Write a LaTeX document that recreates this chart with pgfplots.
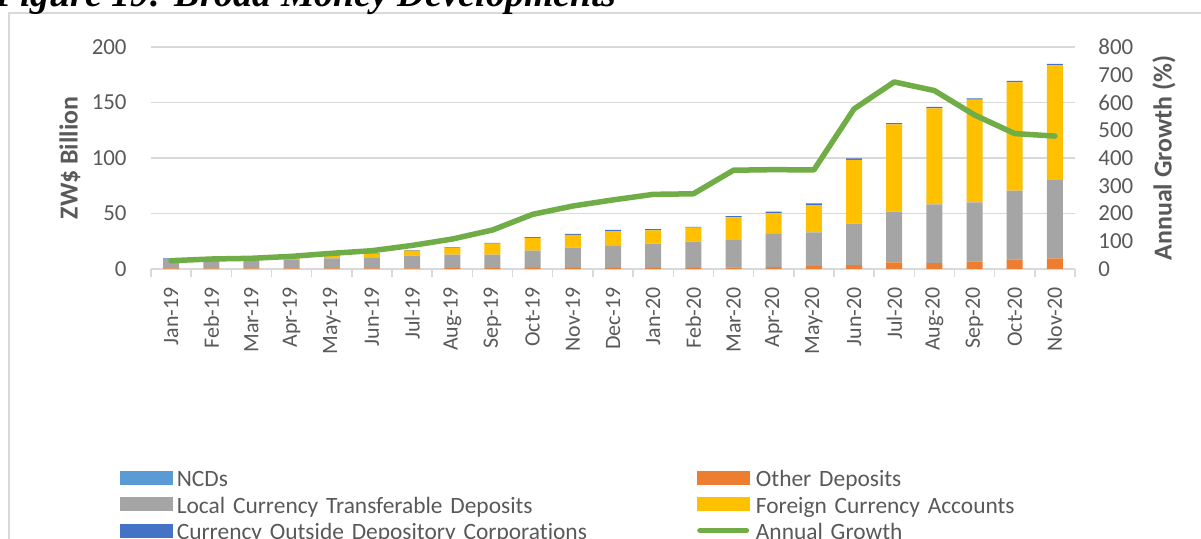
\documentclass[border=0pt]{standalone}
\usepackage{fontspec}
\setmainfont{Carlito}[Ligatures=NoCommon]
\newfontfamily\titlefont{Liberation Serif}
\usepackage{pgfplots}
\pgfplotsset{compat=1.18}
\usepackage{pgfplotstable}
\definecolor{cGray}{HTML}{A5A5A5}
\definecolor{cOrange}{HTML}{ED7D31}
\definecolor{cYellow}{HTML}{FFC000}
\definecolor{cLBlue}{HTML}{5B9BD5}
\definecolor{cDBlue}{HTML}{4472C4}
\definecolor{cGreen}{HTML}{70AD47}
\definecolor{cText}{HTML}{595959}
\definecolor{cGrid}{HTML}{D9D9D9}

\pgfplotstableread{
x  other local foreign curr growth
0  0.6   8.6   0.0    0.4  30
1  0.6   8.7   0.2    0.4  36
2  0.6   8.8   0.3    0.4  38.5
3  0.6   8.1   1.0    0.4  45.6
4  0.6   9.0   2.2    0.4  56.5
5  0.6   9.3   4.0    0.4  66
6  0.6   11.4  4.6    0.5  85
7  0.7   12.2  6.0    0.6  108
8  0.7   12.2  10.0   0.6  140.5
9  1.0   15.6  11.4   0.7  197
10 1.0   18.2  11.5   0.9  227
11 1.1   20.1  12.9   1.2  249
12 1.0   21.8  12.0   1.2  269
13 1.0   23.6  12.6   0.7  271
14 1.5   24.6  20.4   1.2  356
15 1.6   29.9  18.9   1.2  358
16 2.5   30.5  24.6   1.5  357
17 3.6   37.2  57.6   1.2  577
18 6.0   45.6  78.6   1.2  674
19 5.4   52.9  86.5   1.2  643
20 6.9   53.2  92.4   1.3  555
21 8.7   61.9  97.6   1.2  488
22 9.6   71.2  102.6  1.3  479
}\data

\begin{document}
\begin{tikzpicture}
\useasboundingbox (0,0) rectangle (600.5bp,269.5bp);
\draw[cGrid, line width=0.75bp] (4.5bp,-5bp) -- (4.5bp,263bp) -- (610bp,263bp);
\node[anchor=base east, inner sep=0pt, font=\titlefont\bfseries\itshape\fontsize{19}{22}\selectfont] at (308.5bp,266bp) {Figure 19: Broad Money Developments};

\begin{axis}[
  at={(75.5bp,135bp)}, anchor=south west, scale only axis,
  width=462bp, height=111bp,
  xmin=-0.5, xmax=22.5, ymin=0, ymax=200,
  ybar stacked, bar width=8bp,
  axis line style={draw=none},
  ymajorgrids, grid style={cGrid, line width=0.75bp},
  ytick={0,50,...,200}, major tick length=0pt,
  xtick={0,...,22},
  xticklabels={Jan-19,Feb-19,Mar-19,Apr-19,May-19,Jun-19,Jul-19,Aug-19,Sep-19,Oct-19,Nov-19,Dec-19,Jan-20,Feb-20,Mar-20,Apr-20,May-20,Jun-20,Jul-20,Aug-20,Sep-20,Oct-20,Nov-20},
  minor xtick={-0.5,0.5,...,22.5}, minor tick length=4bp, tick align=outside,
  xtick pos=left, ytick pos=left,
  minor tick style={cGrid, line width=0.75bp},
  ticklabel style={font=\fontsize{11.5}{13}\selectfont, text=cText},
  xticklabel style={yshift=-9bp, rotate=90, anchor=east, inner sep=0pt, font=\fontsize{11}{13}\selectfont},
  yticklabel style={inner sep=0pt, xshift=-12bp},
  ylabel={ZW\$ Billion},
  ylabel style={at={(axis description cs:-0.0877,0.5)}, anchor=center, font=\bfseries\fontsize{13}{15}\selectfont, text=cText},
  /pgf/number format/assume math mode=true,
]
\addplot[fill=cOrange, draw=none] table[x=x,y=other]{\data};
\addplot[fill=cGray, draw=none] table[x=x,y=local]{\data};
\addplot[fill=cYellow, draw=none] table[x=x,y=foreign]{\data};
\addplot[fill=cDBlue, draw=none] table[x=x,y=curr]{\data};
\draw[cGrid, line width=0.75bp] (rel axis cs:0,0) -- (rel axis cs:1,0);
\end{axis}

\begin{axis}[
  at={(75.5bp,135bp)}, anchor=south west, scale only axis,
  width=462bp, height=111bp,
  xmin=-0.5, xmax=22.5, ymin=0, ymax=800,
  axis line style={draw=none}, hide x axis,
  ytick={0,100,...,800}, major tick length=0pt,
  ytick pos=right, yticklabel pos=right,
  ticklabel style={font=\fontsize{11.5}{13}\selectfont, text=cText},
  yticklabel style={inner sep=0pt, anchor=west, xshift=11.5bp},
  ylabel={Annual Growth (\%)},
  ylabel style={at={(axis description cs:1.0963,0.5)}, anchor=center, rotate=0, font=\bfseries\fontsize{13}{15}\selectfont, text=cText},
  /pgf/number format/assume math mode=true,
  legend columns=2,
  legend style={at={(axis description cs:-0.03355,-0.9054)}, anchor=north west,
    draw=none, fill=none, inner sep=0pt, outer sep=0pt, row sep=2.25bp, column sep=0pt,
    font=\fontsize{11.75}{13}\selectfont, text=cText,
    nodes={inner sep=0pt, text height=8.5bp, text depth=2.5bp, anchor=base west},
    /tikz/every even column/.append style={text width=260bp}},
]
\addlegendimage{legend image code/.code={\fill[cLBlue] (0bp,1.5bp) rectangle (26bp,8bp); \path (28bp,4bp);}}
\addlegendentry{NCDs}
\addlegendimage{legend image code/.code={\fill[cOrange] (0bp,1.5bp) rectangle (26bp,8bp); \path (28bp,4bp);}}
\addlegendentry{Other Deposits}
\addlegendimage{legend image code/.code={\fill[cGray] (0bp,1.5bp) rectangle (26bp,8bp); \path (28bp,4bp);}}
\addlegendentry{Local Currency Transferable Deposits}
\addlegendimage{legend image code/.code={\fill[cYellow] (0bp,1.5bp) rectangle (26bp,8bp); \path (28bp,4bp);}}
\addlegendentry{Foreign Currency Accounts}
\addlegendimage{legend image code/.code={\fill[cDBlue] (0bp,1.5bp) rectangle (26bp,8bp); \path (28bp,4bp);}}
\addlegendentry{Currency Outside Depository Corporations}
\addplot[cGreen, line width=2.75bp, line join=round, line cap=round, mark=none,
  legend image code/.code={\draw[cGreen, line width=2.75bp, line cap=round] (1.4bp,4.75bp) -- (24.6bp,4.75bp); \path (28bp,4bp);}]
  table[x=x,y=growth]{\data};
\addlegendentry{Annual Growth}
\end{axis}
\end{tikzpicture}
\end{document}
